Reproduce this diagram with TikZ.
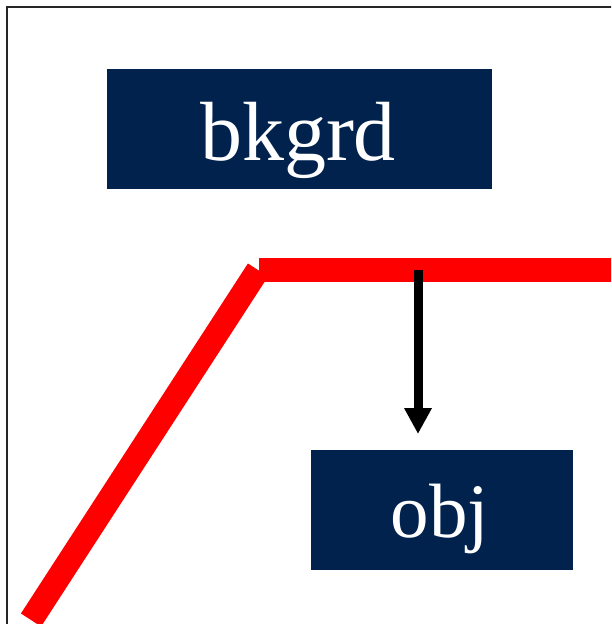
\documentclass[tikz,border=0pt]{standalone}
\usepackage{fontspec}
\setmainfont{Liberation Serif}
\usetikzlibrary{arrows.meta}
\definecolor{navy}{RGB}{2,34,78}
\tikzset{
  darkbox/.style={fill=navy, inner sep=0pt},
  boxtext/.style={text=white, inner sep=0pt, anchor=base},
  redline/.style={draw=red, line width=24pt},
}
\begin{document}
\begin{tikzpicture}[x=1pt,y=-1pt]
\useasboundingbox (0,0) rectangle (611,624);
\clip (0,0) rectangle (611,624);
\draw[line width=2pt, black!85] (7,7) rectangle (700,700);
\node[darkbox, minimum width=385pt, minimum height=120pt] (bk) at (299.5,129) {};
\node[boxtext, font=\fontsize{84}{96}\selectfont] (bkt) at (298,160) {bkgrd};
\node[darkbox, minimum width=262pt, minimum height=120pt] (obj) at (442,510) {};
\node[boxtext, font=\fontsize{77}{90}\selectfont] (objt) at (440,537) {obj};
\coordinate (d0) at (31,620);
\coordinate (d1) at (258,270);
\coordinate (h0) at (259,270);
\coordinate (h1) at (620,270);
\coordinate (a0) at (418,270);
\coordinate (a1) at (418,434);
\draw[redline] (d0) -- (d1);
\draw[redline] (h0) -- (h1);
\draw[line width=9pt, -{Triangle[width=26pt,length=26pt]}] (a0) -- (a1);
\end{tikzpicture}
\end{document}
